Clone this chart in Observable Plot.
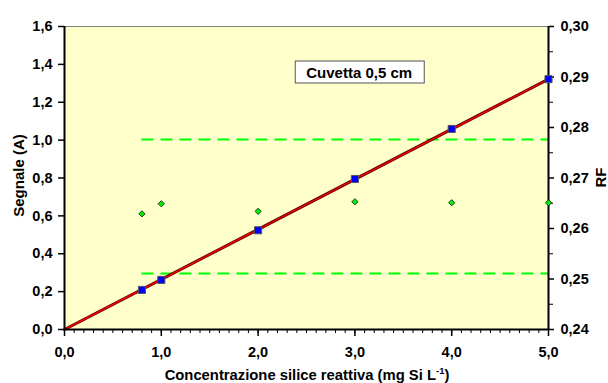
<!DOCTYPE html>
<html><head><meta charset="utf-8">
<script src="https://cdn.jsdelivr.net/npm/d3@7"></script>
<script src="https://cdn.jsdelivr.net/npm/@observablehq/plot@0.6"></script>
<style>
body{margin:0;background:#fff}
svg text, svg tspan{font-family:'Liberation Sans',Arial,sans-serif;font-weight:700}
</style>
</head><body><div id="chart"></div>
<script>
// Data
const conc = [0.8, 1.0, 2.0, 3.0, 4.0, 5.0];
const signal = [0.209, 0.262, 0.524, 0.795, 1.059, 1.322];
const rf = [0.2629, 0.2649, 0.2634, 0.2653, 0.2651, 0.2651];
const rfLimits = [0.2776, 0.2511];
const fitX = [0, 5.0];
const fitY = [0, 1.322];
const xTicks = [0, 1, 2, 3, 4, 5];
const yTicks = [0, 0.2, 0.4, 0.6, 0.8, 1.0, 1.2, 1.4, 1.6];
const rfTicks = [0.24, 0.25, 0.26, 0.27, 0.28, 0.29, 0.30];
const rfMinor = [0.245, 0.255, 0.265, 0.275, 0.285, 0.295];
const xMinor = d3.range(0, 51).map(i => i / 10);
const boxLabel = "Cuvetta 0,5 cm";

const rfMin = 0.24, rfMax = 0.30, yMax = 1.6;
const toY = r => (r - rfMin) / (rfMax - rfMin) * yMax;
const fromY = y => rfMin + y / yMax * (rfMax - rfMin);
const fmt1 = d => d3.format(".1f")(d).replace(".", ",");
const fmt2 = d => d3.format(".2f")(d).replace(".", ",");

const sigData = conc.map((c, i) => ({x: c, y: signal[i]}));
const rfData = conc.map((c, i) => ({x: c, y: toY(rf[i])}));
const fitData = fitX.map((c, i) => ({x: c, y: fitY[i]}));
const limData = rfLimits.map(r => ({y: toY(r)}));

const chart = Plot.plot({
  width: 608, height: 383,
  marginLeft: 64, marginRight: 60, marginTop: 26, marginBottom: 54,
  style: {fontFamily: "'Liberation Sans', Arial, sans-serif", fontSize: "14.5px", fontWeight: "700", background: "#fff", color: "#000"},
  x: {domain: [0, 5]},
  y: {domain: [0, yMax]},
  marks: [
    Plot.frame({fill: "#FFFFCC", stroke: null}),
    Plot.ruleY([yMax], {stroke: "#808080", strokeWidth: 1}),
    Plot.ruleY(limData, {y: "y", x1: conc[0], x2: 5, stroke: "#00FF00", strokeWidth: 2, strokeDasharray: "12,7"}),
    Plot.line(fitData, {x: "x", y: "y", stroke: "#5a0000", strokeWidth: 3}),
    Plot.line(fitData, {x: "x", y: "y", stroke: "#ee0000", strokeWidth: 1.5}),
    Plot.axisX({ticks: xMinor, tickSize: 4, tickFormat: () => "", strokeWidth: 1, label: null}),
    Plot.axisX({ticks: xTicks, tickSize: 7, tickPadding: 10, tickFormat: fmt1, strokeWidth: 1.5, label: null}),
    Plot.axisY({ticks: yTicks, tickSize: 6, tickPadding: 6, tickFormat: fmt1, strokeWidth: 1.5, label: null}),
    Plot.axisY({anchor: "right", ticks: rfMinor.map(toY), tickSize: 4, tickFormat: () => "", strokeWidth: 1, label: null}),
    Plot.axisY({anchor: "right", ticks: rfTicks.map(toY), tickSize: 5, tickPadding: 7, tickFormat: d => fmt2(fromY(d)), strokeWidth: 1.5, label: null}),
    Plot.ruleX([0], {stroke: "#000", strokeWidth: 2}),
    Plot.ruleX([5], {stroke: "#000", strokeWidth: 2}),
    Plot.ruleY([0], {stroke: "#000", strokeWidth: 2}),
    Plot.dot(rfData, {x: "x", y: "y", symbol: "diamond2", r: 2.8, fill: "#00EE00", stroke: "#1a401a", strokeWidth: 1}),
    Plot.dot(sigData, {x: "x", y: "y", symbol: "square", r: 4, fill: "#0000FF", stroke: "#555", strokeWidth: 1})
  ]
});
document.getElementById("chart").append(chart);

const svg = d3.select(chart);
const sx = chart.scale("x"), sy = chart.scale("y");
const cx = (sx.apply(0) + sx.apply(5)) / 2;
const cy = (sy.apply(0) + sy.apply(yMax)) / 2;

// x title with superscript
const xt = svg.append("text").attr("x", cx + 1).attr("y", 380).attr("text-anchor", "middle")
  .attr("font-size", 14.8);
xt.append("tspan").text("Concentrazione silice reattiva (mg Si L");
xt.append("tspan").attr("font-size", 9.5).attr("dy", -6).text("-1");
xt.append("tspan").attr("dy", 6).text(")");

svg.append("text").attr("transform", `translate(23.5,${cy - 2}) rotate(-90)`).attr("text-anchor", "middle")
  .attr("font-size", 15).text("Segnale (A)");
svg.append("text").attr("transform", `translate(606,${cy}) rotate(-90)`).attr("text-anchor", "middle")
  .attr("font-size", 15).text("RF");

// annotation box
const bx = sx.apply(3.05), by = 72;
svg.append("rect").attr("x", bx - 64).attr("y", by - 11).attr("width", 129).attr("height", 22)
  .attr("fill", "#fff").attr("stroke", "#555").attr("stroke-width", 1);
svg.append("text").attr("x", bx).attr("y", by + 5.5).attr("text-anchor", "middle")
  .attr("font-size", 15).text(boxLabel);
</script></body></html>
